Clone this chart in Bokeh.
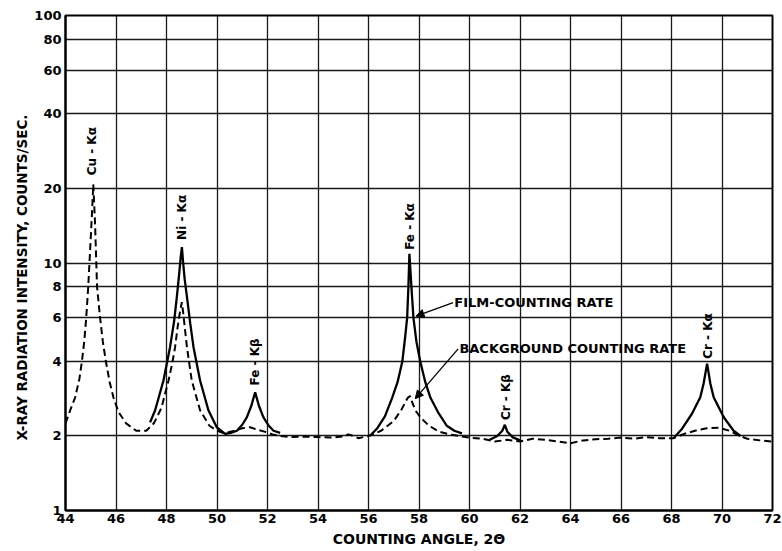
from bokeh.plotting import figure
from bokeh.models import FixedTicker, PrintfTickFormatter, Arrow, NormalHead, ColumnDataSource, Title
from bokeh.core.properties import value
from bokeh.embed import file_html
from bokeh.resources import INLINE
import math

# Background counting rate (dashed), angle 2θ in degrees vs counts/sec
bg_angle = [44.0, 44.18, 44.38, 44.55, 44.65, 44.75, 44.82, 44.9, 44.98, 45.05, 45.1, 45.17,
            45.25, 45.37, 45.48, 45.6, 45.75, 45.9, 46.1, 46.4, 46.8, 47.2, 47.5, 47.8,
            48.08, 48.22, 48.34, 48.45, 48.54, 48.61, 48.66, 48.74, 48.81, 49.0, 49.33,
            49.7, 50.0, 50.3, 50.7, 51.0, 51.31, 51.6, 51.97, 52.2,
            52.5, 53.0, 53.5, 54.0, 54.5, 55.0, 55.2, 55.4, 55.6, 56.0, 56.5, 57.0,
            57.3, 57.55, 57.65, 57.75, 57.9, 58.1, 58.4, 58.8, 59.2, 59.6, 60.0, 60.5, 61.0,
            61.5, 62.0, 62.5, 63.0, 63.5, 64.0, 64.5, 65.0, 65.5, 66.0, 66.5, 67.0,
            67.5, 68.08, 68.5, 69.0, 69.4, 69.87, 70.3, 70.7, 71.0, 71.5, 72.0]
bg_rate = [2.25, 2.53, 2.86, 3.4, 4.0, 4.9, 6.0, 8.0, 11.5, 16.0, 20.8, 14.5,
           8.0, 6.0, 4.8, 4.0, 3.3, 2.86, 2.5, 2.25, 2.1, 2.1, 2.25, 2.6,
           3.35, 3.9, 4.57, 5.6, 6.4, 6.95, 6.3, 5.3, 4.57, 3.35, 2.54,
           2.2, 2.1, 2.05, 2.1, 2.15, 2.17, 2.12, 2.07, 2.03,
           2.0, 1.98, 1.99, 1.98, 1.97, 1.99, 2.03, 2.0, 1.96, 2.0, 2.1, 2.3,
           2.55, 2.85, 2.9, 2.7, 2.5, 2.35, 2.2, 2.08, 2.03, 2.0, 1.97, 1.95, 1.9,
           1.93, 1.9, 1.95, 1.93, 1.9, 1.87, 1.92, 1.94, 1.95, 1.97, 1.95, 1.98,
           1.96, 1.96, 2.04, 2.11, 2.15, 2.16, 2.1, 2.0, 1.95, 1.92, 1.9]

# Film-counting rate (solid), drawn where it rises above background
film_ni_fe_angle = [47.35, 47.55, 47.88, 48.14, 48.3, 48.41, 48.5, 48.56, 48.61, 48.66,
                    48.72, 48.81, 48.94, 49.07, 49.33, 49.66, 49.99, 50.32, 50.55, 50.79,
                    51.0, 51.18, 51.36, 51.51, 51.66, 51.84, 52.05, 52.24, 52.5]
film_ni_fe_rate = [2.27, 2.54, 3.35, 4.57, 5.8, 7.29, 9.0, 10.5, 11.6, 10.0,
                   8.6, 7.29, 5.7, 4.57, 3.35, 2.54, 2.17, 2.04, 2.06, 2.1,
                   2.22, 2.38, 2.65, 3.0, 2.65, 2.38, 2.2, 2.1, 2.06]
film_fe_angle = [56.05, 56.35, 56.65, 56.94, 57.15, 57.34, 57.45, 57.53, 57.58, 57.62,
                 57.7, 57.78, 57.9, 58.05, 58.25, 58.45, 58.75, 59.1, 59.4, 59.7]
film_fe_rate = [2.0, 2.15, 2.4, 2.86, 3.3, 4.0, 5.0, 6.0, 8.0, 10.9,
                8.0, 6.0, 4.8, 4.0, 3.3, 2.86, 2.5, 2.2, 2.1, 2.05]
film_crb_angle = [60.8, 61.1, 61.3, 61.4, 61.5, 61.7, 62.0]
film_crb_rate = [1.93, 2.0, 2.1, 2.22, 2.08, 1.98, 1.92]
film_cra_angle = [68.08, 68.42, 68.81, 69.14, 69.27, 69.41, 69.54, 69.67, 70.07, 70.46, 70.73]
film_cra_rate = [1.96, 2.14, 2.46, 2.87, 3.25, 3.92, 3.25, 2.87, 2.38, 2.1, 2.0]

# Peak identifications
peak_names = ["Cu - Kα", "Ni - Kα", "Fe - Kβ", "Fe - Kα", "Cr - Kβ", "Cr - Kα"]
peak_angle = [45.05, 48.62, 51.5, 57.65, 61.45, 69.43]
peak_label_rate = [22.6, 12.4, 3.2, 11.3, 2.32, 4.1]

x_ticks = list(range(44, 73, 2))
y_ticks = [1, 2, 4, 6, 8, 10, 20, 40, 60, 80, 100]

FONT = "DejaVu Sans"

p = figure(width=782, height=551, output_backend="svg", toolbar_location=None,
           y_axis_type="log", x_range=(44, 72), y_range=(1, 100),
           min_border_left=65, min_border_right=10, min_border_top=15, min_border_bottom=41)
p.background_fill_color = "white"
p.border_fill_color = "white"
p.outline_line_color = "black"
p.outline_line_width = 2

for ax in (p.xaxis[0], p.yaxis[0]):
    ax.axis_line_color = "black"
    ax.axis_line_width = 2
    ax.major_tick_out = 0
    ax.major_tick_in = 0
    ax.minor_tick_out = 0
    ax.minor_tick_in = 0
    ax.major_label_text_font = FONT
    ax.major_label_text_font_style = "bold"
    ax.major_label_text_font_size = "13px"
    ax.major_label_text_color = "black"
    ax.axis_label_text_font = FONT
    ax.axis_label_text_font_style = "bold"
    ax.axis_label_text_color = "black"

p.xaxis.ticker = FixedTicker(ticks=x_ticks)
p.yaxis.ticker = FixedTicker(ticks=y_ticks)
p.yaxis.formatter = PrintfTickFormatter(format="%d")
p.xaxis.major_label_standoff = 3
p.yaxis.major_label_standoff = 4
p.xaxis.axis_label = "COUNTING ANGLE, 2Θ"
p.xaxis.axis_label_text_font_size = "14px"
p.xaxis.axis_label_standoff = 5

# Vertical axis title in the left panel, starting a little above the frame's bottom
p.add_layout(Title(text="X-RAY RADIATION INTENSITY, COUNTS/SEC.", align="left",
                   offset=70, text_font=FONT, text_font_style="bold",
                   text_font_size="13.5px", text_color="black", standoff=4), "left")

for g in (p.xgrid[0], p.ygrid[0]):
    g.grid_line_color = "black"
    g.grid_line_width = 1.3
    g.grid_line_alpha = 0.9
p.xgrid.ticker = FixedTicker(ticks=x_ticks)
p.ygrid.ticker = FixedTicker(ticks=y_ticks)

p.line(bg_angle, bg_rate, line_color="black", line_width=2, line_dash="7 4")
for xs, ys in ((film_ni_fe_angle, film_ni_fe_rate), (film_fe_angle, film_fe_rate),
               (film_crb_angle, film_crb_rate), (film_cra_angle, film_cra_rate)):
    p.line(xs, ys, line_color="black", line_width=2.3)

labels = ColumnDataSource(dict(x=peak_angle, y=peak_label_rate, t=peak_names))
p.text(x="x", y="y", text="t", source=labels, angle=math.pi / 2,
       text_align="left", text_baseline="middle", text_font=value(FONT),
       text_font_style="bold", text_font_size="12px", text_color="black")

# Curve call-outs
callout_text = ["FILM-COUNTING RATE", "BACKGROUND COUNTING RATE"]
callout_x = [59.4, 59.6]
callout_y = [6.92, 4.5]
callout_tip_x = [57.88, 57.85]
callout_tip_y = [6.1, 2.83]
p.text(x=callout_x, y=callout_y, text=callout_text, text_align="left",
       text_baseline="middle", text_font=value(FONT), text_font_style="bold",
       text_font_size="13px", text_color="black")
for i in range(2):
    p.add_layout(Arrow(x_start=callout_x[i] - 0.05, y_start=callout_y[i],
                       x_end=callout_tip_x[i], y_end=callout_tip_y[i],
                       line_color="black", line_width=1.3,
                       end=NormalHead(size=8, fill_color="black", line_color="black")))

open("out.html", "w").write(file_html(p, INLINE))
